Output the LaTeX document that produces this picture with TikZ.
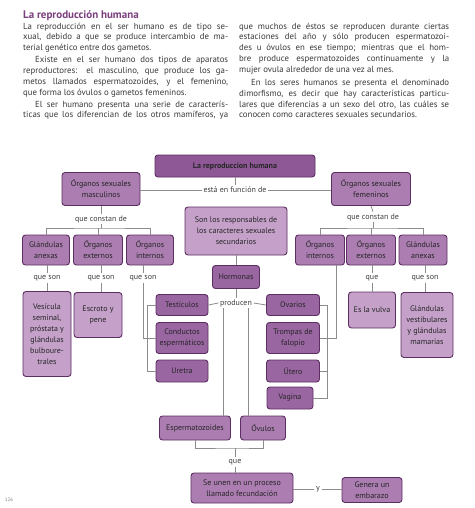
\documentclass[tikz,border=0pt]{standalone}
\usepackage{fontspec}
\setmainfont{PT Sans}
\usepackage{tikz}

\definecolor{boxline}{HTML}{5C2E62}
\definecolor{boxdark}{HTML}{9A66A2}
\definecolor{boxmid}{HTML}{AB7DB1}
\definecolor{boxlight}{HTML}{C5A1CA}
\definecolor{titlebox}{HTML}{8E5896}
\definecolor{linkgray}{HTML}{8C8C8C}
\definecolor{titlepurple}{HTML}{7B3F7E}
\definecolor{bodytext}{HTML}{3A3A3A}
\newcommand{\jline}[2]{\makebox[#1][s]{#2}}

\begin{document}
\begin{tikzpicture}[x=1pt,y=-1pt,
  box/.style={draw=boxline,line width=0.9pt,rounded corners=3pt,align=center,inner sep=1pt,
    font=\fontsize{8}{11}\selectfont,text=black!85},
  tbox/.style={box,fill=titlebox},
  dbox/.style={box,fill=boxdark},
  mbox/.style={box,fill=boxmid},
  lbox/.style={box,fill=boxlight},
  lab/.style={inner sep=1.5pt,font=\fontsize{8}{10}\selectfont,text=black!75},
  link/.style={draw=linkgray,line width=0.8pt}]
\useasboundingbox[fill=white] (0,0) rectangle (474,508);

% texto
\node[anchor=base west,inner sep=0,font=\fontsize{11}{12}\selectfont\bfseries,text=titlepurple] (titulo) at (23,18.5) {La reproducción humana};
\node[anchor=north west,inner sep=0,align=left,font=\fontsize{8.8}{10.8}\selectfont,text=bodytext] (colL) at (23,22.5) {%
\jline{205pt}{La reproducción en el ser humano es de tipo se-}\\
\jline{205pt}{xual, debido a que se produce intercambio de ma-}\\
terial genético entre dos gametos.\\[1.2pt]
\jline{205pt}{\hspace*{12pt}Existe en el ser humano dos tipos de aparatos}\\
\jline{205pt}{reproductores: el masculino, que produce los ga-}\\
\jline{205pt}{metos llamados espermatozoides, y el femenino,}\\
que forma los óvulos o gametos femeninos.\\[1.2pt]
\jline{205pt}{\hspace*{12pt}El ser humano presenta una serie de caracterís-}\\
\jline{205pt}{ticas que los diferencian de los otros mamíferos, ya}};
\node[anchor=north west,inner sep=0,align=left,font=\fontsize{8.8}{10.8}\selectfont,text=bodytext] (colR) at (239,22.5) {%
\jline{210pt}{que muchos de éstos se reproducen durante ciertas}\\
\jline{210pt}{estaciones del año y sólo producen espermatozoi-}\\
\jline{210pt}{des u óvulos en ese tiempo; mientras que el hom-}\\
\jline{210pt}{bre produce espermatozoides continuamente y la}\\
mujer ovula alrededor de una vez al mes.\\[2.4pt]
\jline{210pt}{\hspace*{12pt}En los seres humanos se presenta el denominado}\\
\jline{210pt}{dimorfismo, es decir que hay características particu-}\\
\jline{210pt}{lares que diferencias a un sexo del otro, las cuáles se}\\
conocen como caracteres sexuales secundarios.};

% mapa
\node[tbox,minimum width=160,minimum height=22] (raiz) at (235,166) {\textbf{La reproduccion humana}};
\node[lab] (funcion) at (235,190) {está en función de};
\node[mbox,minimum width=78,minimum height=33] (masc) at (101,189) {Órganos sexuales\\masculinos};
\node[mbox,minimum width=79,minimum height=33] (fem) at (371,189) {Órganos sexuales\\femeninos};
\node[lab] (constM) at (101,219) {que constan de};
\node[lab] (constF) at (373,217) {que constan de};
\coordinate (barM) at (101,228);
\coordinate (barF) at (373,228);

\node[mbox,minimum width=47,minimum height=30] (glandM) at (46,250) {Glándulas\\anexas};
\node[mbox,minimum width=49,minimum height=30] (extM) at (98,250) {Órganos\\externos};
\node[mbox,minimum width=47,minimum height=30] (intM) at (150,250) {Órganos\\internos};
\node[mbox,minimum width=49,minimum height=30] (intF) at (320,250) {Órganos\\internos};
\node[mbox,minimum width=49,minimum height=30] (extF) at (371,250) {Órganos\\externos};
\node[mbox,minimum width=48,minimum height=30] (glandF) at (423,250) {Glándulas\\anexas};

\node[lab] (sonA) at (47,278) {que son};
\node[lab] (sonB) at (101,278) {que son};
\node[lab] (sonC) at (143,278) {que son};
\node[lab] (queF) at (372,278) {que};
\node[lab] (sonF) at (425,278) {que son};

\node[lbox,minimum width=48,minimum height=85] (vesic) at (47,334) {Vesícula\\seminal,\\próstata y\\glándulas\\bulboure-\\trales};
\node[lbox,minimum width=48,minimum height=45] (escroto) at (98,315) {Escroto y\\pene};
\node[lbox,minimum width=47,minimum height=36] (vulva) at (372,310) {Es la vulva};
\node[lbox,minimum width=52,minimum height=65] (vestib) at (427,325) {Glándulas\\vestibulares\\y glándulas\\mamarias};

\node[lbox,minimum width=102,minimum height=48] (resp) at (236,231) {Son los responsables de\\los caracteres sexuales\\secundarios};
\node[dbox,minimum width=47,minimum height=23] (horm) at (236,277) {Hormonas};
\node[lab] (producen) at (236,303) {producen};
\node[dbox,minimum width=52,minimum height=21] (test) at (182,305) {Testículos};
\node[dbox,minimum width=52,minimum height=31] (cond) at (182,338) {Conductos\\espermáticos};
\node[dbox,minimum width=52,minimum height=22] (uretra) at (182,371) {Uretra};
\node[dbox,minimum width=53,minimum height=21] (ovar) at (293,305) {Ovarios};
\node[dbox,minimum width=53,minimum height=31] (tromp) at (293,338) {Trompas de\\falopio};
\node[dbox,minimum width=53,minimum height=22] (utero) at (293,371) {Útero};
\node[dbox,minimum width=46,minimum height=22] (vagina) at (290,398) {Vagina};

\node[mbox,minimum width=71,minimum height=24] (esperm) at (195,428) {Espermatozoides};
\node[mbox,minimum width=45,minimum height=24] (ovul) at (263,428) {Óvulos};
\coordinate (barB) at (235,448);
\node[lab] (que) at (235,462) {que};
\node[mbox,minimum width=102,minimum height=30] (unen) at (242,488) {Se unen en un proceso\\llamado fecundación};
\node[lab] (yy) at (318,489) {y};
\node[mbox,minimum width=60,minimum height=25] (genera) at (372,490) {Genera un\\embarazo};

\node[font=\fontsize{5}{6}\selectfont,text=black!50] (pag) at (9,500) {126};

% conectores
\draw[link] (raiz.south) -- (funcion.north);
\draw[link] (funcion.west) -- (funcion.west -| masc.east);
\draw[link] (funcion.east) -- (funcion.east -| fem.west);
\draw[link] (masc.south) -- (constM.north);
\draw[link] (constM.south) -- (barM);
\draw[link] (glandM.north) |- (barM) -| (intM.north);
\draw[link] (extM.north) -- (extM.north |- barM);
\draw[link] (fem.south) -- (constF.north);
\draw[link] (constF.south) -- (barF);
\draw[link] (intF.north) |- (barF) -| (glandF.north);
\draw[link] (extF.north) -- (extF.north |- barF);

\draw[link] (sonA.north |- glandM.south) -- (sonA.north);
\draw[link] (sonA.south) -- (vesic.north);
\draw[link] (sonB.north |- extM.south) -- (sonB.north);
\draw[link] (sonB.south) -- (sonB.south |- escroto.north);
\draw[link] (sonC.north |- intM.south) -- (sonC.north);
\draw[link] (sonC.south) |- (cond.west);
\draw[link] (test.west) -- ++(-8,0) |- (uretra.west);

\draw[link] ([xshift=16pt]intF.south) |- (tromp.east);
\draw[link] (ovar.east) -- ++(7,0) |- (vagina.east);
\draw[link] (utero.east) -- ++(7,0);
\draw[link] (queF.north |- extF.south) -- (queF.north);
\draw[link] (queF.south) -- (queF.south |- vulva.north);
\draw[link] (sonF.north |- glandF.south) -- (sonF.north);
\draw[link] (sonF.south) -- (sonF.south |- vestib.north);

\draw[link] (resp.south) -- (horm.north);
\draw[link] (horm.south) -- (producen.north);
\draw[link] (producen.west) -- (test.east);
\draw[link] (producen.east) -- (ovar.west);
\draw[link] ([xshift=-13pt]producen.south) -- ([xshift=-13pt]producen.south |- esperm.north);
\draw[link] ([xshift=12pt]producen.south) -- ([xshift=12pt]producen.south |- ovul.north);

\draw[link] (esperm.south) |- (barB) -| (ovul.south);
\draw[link] (barB) -- (que.north);
\draw[link] (que.south) -- (que.south |- unen.north);
\draw[link] (unen.east |- yy.west) -- (yy.west);
\draw[link] (yy.east) -- (yy.east -| genera.west);
\end{tikzpicture}
\end{document}
